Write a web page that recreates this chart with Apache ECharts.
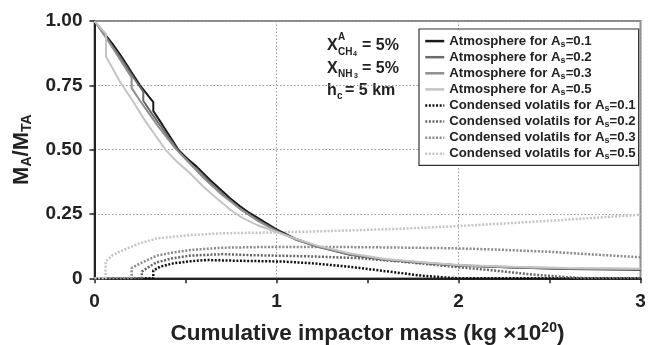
<!DOCTYPE html>
<html>
<head>
    <meta charset="utf-8">
    <title>Atmosphere mass vs impactor mass</title>
    <script src="https://cdn.jsdelivr.net/npm/echarts@6/dist/echarts.min.js"></script>
    <style>
        html, body { margin: 0; padding: 0; background: #fff; }
        #chart { width: 648px; height: 345px; }
    </style>
</head>
<body>
    <div id="chart"></div>
    <script type="text/javascript">
        // atmosphere left (M_A/M_TA) vs cumulative impactor mass (x1e20 kg)
        var atm01 = [[0,1],[0.05,0.955],[0.1,0.91],[0.15,0.86],[0.2,0.805],[0.25,0.75],[0.3,0.705],[0.323,0.685],[0.323,0.65],[0.37,0.60],[0.42,0.545],[0.46,0.50],[0.51,0.465],[0.56,0.435],[0.635,0.382],[0.7,0.34],[0.745,0.311],[0.8,0.28],[0.854,0.253],[0.93,0.22],[1.0,0.19],[1.1,0.155],[1.22,0.125],[1.4,0.092],[1.6,0.072],[1.8,0.06],[2.0,0.05],[2.3,0.042],[2.6,0.036],[3.0,0.033]];
        var atm02 = [[0,1],[0.05,0.95],[0.1,0.90],[0.15,0.85],[0.2,0.795],[0.268,0.725],[0.268,0.69],[0.32,0.635],[0.37,0.585],[0.42,0.535],[0.46,0.495],[0.52,0.45],[0.6,0.395],[0.7,0.33],[0.8,0.27],[0.9,0.225],[1.0,0.185],[1.1,0.152],[1.22,0.123],[1.4,0.092],[1.6,0.072],[1.8,0.06],[2.0,0.05],[2.3,0.042],[2.6,0.037],[3.0,0.035]];
        var atm03 = [[0,1],[0.05,0.95],[0.1,0.895],[0.15,0.84],[0.204,0.78],[0.204,0.74],[0.25,0.69],[0.3,0.64],[0.35,0.59],[0.4,0.545],[0.45,0.5],[0.52,0.45],[0.6,0.39],[0.7,0.325],[0.8,0.27],[0.9,0.222],[1.0,0.183],[1.1,0.153],[1.22,0.125],[1.4,0.094],[1.6,0.073],[1.8,0.061],[2.0,0.051],[2.3,0.043],[2.6,0.038],[3.0,0.036]];
        var atm05 = [[0,1],[0.063,0.95],[0.063,0.862],[0.1,0.815],[0.14,0.764],[0.213,0.686],[0.28,0.61],[0.34,0.55],[0.39,0.50],[0.45,0.455],[0.525,0.408],[0.6,0.355],[0.671,0.311],[0.74,0.27],[0.8,0.24],[0.9,0.205],[1.0,0.18],[1.1,0.155],[1.22,0.128],[1.4,0.097],[1.6,0.075],[1.8,0.062],[2.0,0.052],[2.3,0.045],[2.6,0.04],[3.0,0.037]];

        // condensed volatiles
        var cond01 = [[0,0],[0.323,0],[0.323,0.03],[0.36,0.045],[0.433,0.058],[0.52,0.066],[0.616,0.071],[0.8,0.068],[1.04,0.065],[1.2,0.058],[1.4,0.045],[1.62,0.026],[1.8,0.01],[1.95,0.002],[2.0,0],[3,0]];
        var cond02 = [[0,0],[0.26,0],[0.26,0.026],[0.3,0.045],[0.342,0.062],[0.43,0.078],[0.525,0.088],[0.708,0.094],[0.855,0.09],[1.0,0.088],[1.2,0.085],[1.46,0.078],[1.7,0.064],[2.0,0.043],[2.2,0.03],[2.4,0.015],[2.6,0.004],[2.7,0],[3,0]];
        var cond03 = [[0,0],[0.204,0],[0.204,0.04],[0.25,0.058],[0.342,0.088],[0.43,0.1],[0.525,0.11],[0.708,0.119],[0.964,0.122],[1.3,0.122],[1.6,0.12],[1.95,0.117],[2.2,0.112],[2.5,0.103],[2.8,0.09],[3.0,0.082]];
        var cond05 = [[0,0],[0.061,0],[0.061,0.065],[0.1,0.09],[0.158,0.11],[0.25,0.136],[0.342,0.155],[0.525,0.168],[0.708,0.175],[0.964,0.178],[1.2,0.182],[1.4,0.186],[1.7,0.193],[2.0,0.203],[2.3,0.215],[2.6,0.228],[2.85,0.24],[3.0,0.247]];

        var albedo = ['0.1', '0.2', '0.3', '0.5'];
        var atmData = [atm01, atm02, atm03, atm05];
        var condData = [cond01, cond02, cond03, cond05];
        var atmColors = ['#1a1a1a', '#6a6a6a', '#8e8e8e', '#c4c4c4'];
        var condColors = ['#111111', '#666666', '#8a8a8a', '#c4c4c4'];

        var FONT = 'Liberation Sans';
        var myChart = echarts.init(document.getElementById('chart'));

        var series = [];
        var legendData = [];
        albedo.forEach(function (a, i) {
            var name = 'Atmosphere for As=' + a;
            legendData.push(name);
            series.push({
                name: name, type: 'line', data: atmData[i],
                symbol: 'none', z: 3,
                lineStyle: { color: atmColors[i], width: 2 },
                itemStyle: { color: atmColors[i] }
            });
        });
        albedo.forEach(function (a, i) {
            var name = 'Condensed volatils for As=' + a;
            legendData.push(name);
            series.push({
                name: name, type: 'line', data: condData[i],
                symbol: 'none', z: 2,
                lineStyle: { color: condColors[i], width: 2.5, type: [2, 1.6] },
                itemStyle: { color: condColors[i] }
            });
        });

        var option = {
            animation: false,
            backgroundColor: '#fff',
            textStyle: { fontFamily: FONT },
            grid: {
                left: 94.5, right: 7.5, top: 21, bottom: 66.7,
                outerBoundsMode: 'none',
                show: true, borderColor: '#8a8a8a', borderWidth: 2
            },
            legend: {
                data: legendData,
                orient: 'vertical',
                left: 419, top: 29,
                padding: [5, 3, 4, 5],
                borderColor: '#333', borderWidth: 1.2,
                backgroundColor: '#fff',
                itemWidth: 19, itemHeight: 8, itemGap: 1.5,
                itemStyle: { opacity: 0 },
                lineStyle: { width: 2.5 },
                formatter: function (n) {
                    return n.replace('As=', 'A{s|s}=');
                },
                textStyle: {
                    fontFamily: FONT, fontWeight: 'bold', fontSize: 13.2, color: '#222',
                    lineHeight: 14.2,
                    rich: { s: { fontFamily: FONT, fontWeight: 'bold', fontSize: 9, color: '#222', padding: [6, 0, 0, 0] } }
                }
            },
            xAxis: {
                type: 'value', min: 0, max: 3, interval: 1,
                name: '{t|Cumulative impactor mass (kg \u00d710}{sup|20}{t|)}',
                nameLocation: 'middle', nameGap: 43,
                nameTextStyle: {
                    rich: {
                        t: { fontFamily: FONT, fontWeight: 'bold', fontSize: 22.5, color: '#222' },
                        sup: { fontFamily: FONT, fontWeight: 'bold', fontSize: 14, color: '#222', padding: [0, 0, 11, 0] }
                    }
                },
                axisLine: { show: true, lineStyle: { color: '#222', width: 2 } },
                axisTick: { show: true, length: 5, lineStyle: { color: '#222', width: 1.5 } },
                minorTick: { show: true, splitNumber: 2, length: 5, lineStyle: { color: '#222', width: 1.5 } },
                axisLabel: { fontFamily: FONT, fontWeight: 'bold', fontSize: 19, color: '#222', margin: 14 },
                splitLine: { show: true, lineStyle: { color: '#999', width: 1, type: [1.5, 2] } }
            },
            yAxis: {
                type: 'value', min: 0, max: 1, interval: 0.25,
                name: '{t|M}{s|A}{t|/M}{s|TA}',
                nameLocation: 'middle', nameGap: 60, nameRotate: 90,
                nameTextStyle: {
                    rich: {
                        t: { fontFamily: FONT, fontWeight: 'bold', fontSize: 22, color: '#222' },
                        s: { fontFamily: FONT, fontWeight: 'bold', fontSize: 14, color: '#222', padding: [11, 0, 0, 0] }
                    }
                },
                axisLine: { show: true, lineStyle: { color: '#222', width: 2 } },
                axisTick: { show: true, length: 5, lineStyle: { color: '#222', width: 1.5 } },
                axisLabel: {
                    fontFamily: FONT, fontWeight: 'bold', fontSize: 19, color: '#222', margin: 12,
                    formatter: function (v) { return v === 0 ? '0' : v.toFixed(2); }
                },
                splitLine: { show: true, lineStyle: { color: '#999', width: 1, type: [1.5, 2] } }
            },
            graphic: [
                // X^A_CH4 = 5%
                { type: 'text', left: 327, top: 38, style: { text: 'X', font: 'bold 16px ' + FONT, fill: '#222' } },
                { type: 'text', left: 338, top: 32, style: { text: 'A', font: 'bold 10px ' + FONT, fill: '#222' } },
                { type: 'text', left: 338, top: 47, style: { text: 'CH', font: 'bold 10px ' + FONT, fill: '#222' } },
                { type: 'text', left: 353, top: 51, style: { text: '4', font: 'bold 7px ' + FONT, fill: '#222' } },
                { type: 'text', left: 362, top: 38, style: { text: '= 5%', font: 'bold 16px ' + FONT, fill: '#222' } },
                // X_NH3 = 5%
                { type: 'text', left: 327, top: 61, style: { text: 'X', font: 'bold 16px ' + FONT, fill: '#222' } },
                { type: 'text', left: 338, top: 69, style: { text: 'NH', font: 'bold 10px ' + FONT, fill: '#222' } },
                { type: 'text', left: 354, top: 73, style: { text: '3', font: 'bold 7px ' + FONT, fill: '#222' } },
                { type: 'text', left: 362, top: 61, style: { text: '= 5%', font: 'bold 16px ' + FONT, fill: '#222' } },
                // h_c = 5 km
                { type: 'text', left: 327, top: 83, style: { text: 'h', font: 'bold 16px ' + FONT, fill: '#222' } },
                { type: 'text', left: 337, top: 91, style: { text: 'c', font: 'bold 10px ' + FONT, fill: '#222' } },
                { type: 'text', left: 345, top: 83, style: { text: '= 5 km', font: 'bold 16px ' + FONT, fill: '#222' } }
            ],
            series: series
        };

        myChart.setOption(option);
    </script>
</body>
</html>
